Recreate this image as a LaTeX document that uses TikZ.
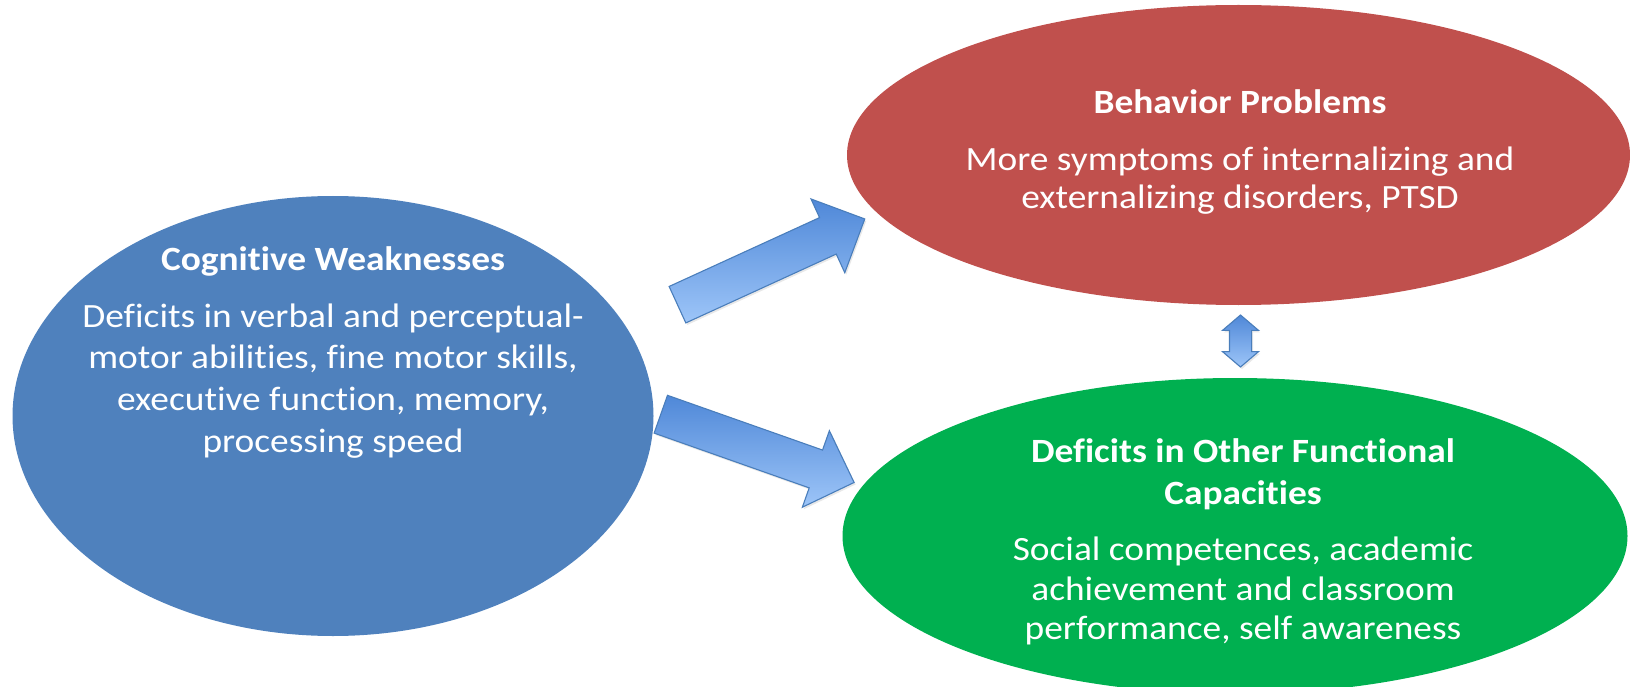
\documentclass[tikz,border=0pt]{standalone}
\usepackage{fontspec}
\setmainfont{Carlito}[FakeStretch=1.1, RawFeature={-liga}]
\usetikzlibrary{shapes.geometric,shapes.arrows,shadows}

\definecolor{cogblue}{HTML}{4F81BD}
\definecolor{behred}{HTML}{C0504D}
\definecolor{fungreen}{HTML}{00B050}
\definecolor{arrowedge}{HTML}{4A7EBB}
\definecolor{arrowdark}{HTML}{4F88D8}
\definecolor{arrowlight}{HTML}{9DC5F8}

\tikzset{
  blob/.style={ellipse, inner sep=0pt},
  headline/.style={font=\fontsize{34}{41}\selectfont\bfseries, text=white, anchor=base, inner sep=0pt},
  bodyline/.style={font=\fontsize{34}{41}\selectfont, text=white, anchor=base, inner sep=0pt},
  arrowlook/.style={draw=arrowedge, line width=1.1pt, line join=miter,
    top color=arrowdark, bottom color=arrowlight,
    drop shadow={opacity=0.18, shadow xshift=1.5pt, shadow yshift=-2pt}},
  blockarrow/.style={single arrow, arrowlook, inner xsep=0pt, inner ysep=19.5pt,
    single arrow head extend=20.5pt, single arrow tip angle=90, minimum width=80pt},
  twinarrow/.style={double arrow, arrowlook, inner xsep=0pt, inner ysep=10.5pt,
    double arrow head extend=7pt, double arrow tip angle=99, minimum width=35pt},
}

\begin{document}
\begin{tikzpicture}[x=1pt, y=-1pt]
  \useasboundingbox (0,0) rectangle (1630,687);
  \clip (0,0) rectangle (1630,687);

  % the three outcome domains
  \node[blob, fill=cogblue, minimum width=641pt, minimum height=440pt] (cog) at (333,416) {};
  \node[blob, fill=behred, minimum width=783pt, minimum height=300pt] (beh) at (1238.5,155) {};
  \node[blob, fill=fungreen, minimum width=785pt, minimum height=316pt] (fun) at (1235,536) {};

  % Cognitive Weaknesses
  \node[headline] (cogT) at (333,270) {Cognitive Weaknesses};
  \node[bodyline] (cog1) at (333,327) {Deficits in verbal and perceptual-};
  \node[bodyline] (cog2) at (333,368) {motor abilities, fine motor skills,};
  \node[bodyline] (cog3) at (333,410) {executive function, memory,};
  \node[bodyline] (cog4) at (333,452) {processing speed};

  % Behavior Problems
  \node[headline] (behT) at (1240,114) {Behavior Problems};
  \node[bodyline] (beh1) at (1240,171) {More symptoms of internalizing and};
  \node[bodyline] (beh2) at (1240,208) {externalizing disorders, PTSD};

  % Deficits in Other Functional Capacities
  \node[headline] (funT1) at (1243,462) {Deficits in Other Functional};
  \node[headline] (funT2) at (1243,504) {Capacities};
  \node[bodyline] (fun1) at (1243,560) {Social competences, academic};
  \node[bodyline] (fun2) at (1243,600) {achievement and classroom};
  \node[bodyline] (fun3) at (1243,639) {performance, self awareness};

  % block arrows linking the domains
  \node[blockarrow, minimum height=206pt, rotate=24.6] (toBeh) at (762,266) {};
  \node[blockarrow, minimum height=205pt, rotate=-19.45] (toFun) at (748,445) {};
  \node[twinarrow, minimum height=52pt, rotate=90] (between) at (1240.5,341) {};
\end{tikzpicture}
\end{document}
